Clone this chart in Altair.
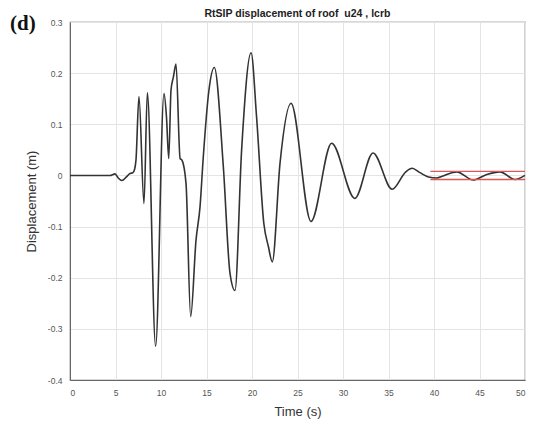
import altair as alt
import pandas as pd

# Time (s) and roof displacement (m)
time_s = [0, 4.4, 4.95, 5.3, 5.7, 6.2, 6.6, 6.9, 7.1, 7.25, 7.58, 8.13, 8.5, 9.41,
          10.33, 10.6, 10.85, 11.1, 11.37, 11.65, 12.1, 12.3, 12.75, 13.26, 13.85,
          14.29, 14.65, 15.27, 15.86, 16.85, 17.58, 18.13, 18.86, 19.9, 20.5, 21.3,
          21.8, 22.23, 23.08, 24.29, 26.48, 28.75, 31.3, 33.3, 35.4, 36.9, 37.6,
          38.4, 39.4, 40.3, 41.0, 42.5, 44.3, 45.8, 47.25, 48.9, 50]
disp_m = [0, 0, 0.003, -0.005, -0.01, -0.003, 0.004, 0.005, 0.012, 0.03, 0.154, -0.055,
          0.162, -0.334, 0.16, 0.115, 0.033, 0.167, 0.193, 0.218, 0.033, 0.03, -0.016,
          -0.276, -0.126, -0.061, 0.037, 0.167, 0.211, 0.017, -0.191, -0.225, 0.05,
          0.24, 0.115, -0.094, -0.139, -0.169, 0.024, 0.141, -0.09, 0.063, -0.045,
          0.044, -0.027, 0.007, 0.014, 0.006, -0.003, -0.005, -0.001, 0.007, -0.009,
          0.002, 0.007, -0.008, 0.0]

# Red band lines
band_start = [39.6, 39.6]
band_end = [50, 50]
band_val = [0.008, -0.008]

x_ticks = [0, 5, 10, 15, 20, 25, 30, 35, 40, 45, 50]
y_ticks = [-0.4, -0.3, -0.2, -0.1, 0, 0.1, 0.2, 0.3]

title_text = ["RtSIP displacement of roof \u00a0u24 , lcrb"]
panel_text = ["(d)"]

df = pd.DataFrame({"t": time_s, "d": disp_m})
band = pd.DataFrame({"x0": band_start, "x1": band_end, "y": band_val})

xscale = alt.Scale(domain=[0, 50], nice=False, zero=False)
yscale = alt.Scale(domain=[-0.4, 0.3], nice=False, zero=False)

xaxis = alt.Axis(values=x_ticks, title="Time (s)", grid=True, ticks=False,
                 labelPadding=8, titlePadding=9, labelFontSize=8.5, titleFontSize=13,
                 labelColor="#555", titleColor="#333", titleFontWeight="normal",
                 domainColor="#666", gridColor="#e4e4e4")
yaxis = alt.Axis(values=y_ticks, title="Displacement (m)", grid=True, ticks=False,
                 labelPadding=8, titlePadding=9, labelFontSize=8.5, titleFontSize=13,
                 labelColor="#555", titleColor="#333", titleFontWeight="normal",
                 domainColor="#666", gridColor="#e4e4e4",
                 labelExpr="toString(datum.value)")

line = alt.Chart(df).mark_line(color="#333333", strokeWidth=1.6, interpolate="monotone").encode(
    x=alt.X("t:Q", scale=xscale, axis=xaxis),
    y=alt.Y("d:Q", scale=yscale, axis=yaxis),
)

rules = alt.Chart(band).mark_rule(color="#e05555", strokeWidth=1.3).encode(
    x=alt.X("x0:Q", scale=xscale),
    x2="x1:Q",
    y=alt.Y("y:Q", scale=yscale),
)

label = alt.Chart(pd.DataFrame({"s": panel_text})).mark_text(
    font="Liberation Serif", fontWeight="bold", fontSize=21, align="left",
    baseline="middle", color="#111"
).encode(x=alt.value(-60), y=alt.value(2), text="s:N")

title = alt.Chart(pd.DataFrame({"s": title_text})).mark_text(
    font="Liberation Sans", fontWeight="bold", fontSize=10.5, align="center",
    baseline="middle", color="#222"
).encode(x=alt.value(227.5), y=alt.value(-8), text="s:N")

chart = alt.layer(line, rules, label, title).properties(
    width=455, height=358,
    autosize=alt.AutoSizeParams(type="none"),
    padding={"left": 62, "top": 14, "right": 6, "bottom": 40},
).configure_view(stroke="#666", strokeWidth=1.2).configure_axis(
    labelFont="Liberation Sans", titleFont="Liberation Sans"
)

chart.save("out.html", embed_options={"renderer": "svg", "actions": False})
